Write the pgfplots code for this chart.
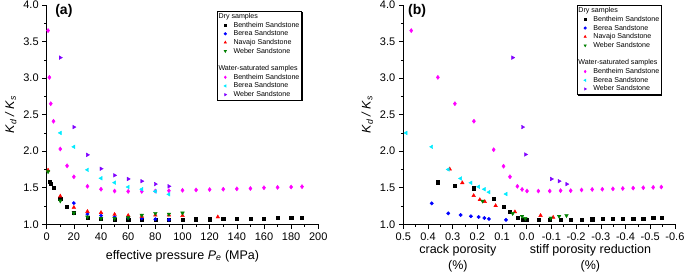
\documentclass[border=0pt]{standalone}
\usepackage{fontspec}
\setmainfont{Liberation Sans}
\usepackage{pgfplots}
\pgfplotsset{compat=1.18}
\usetikzlibrary{shadows}
\definecolor{cmag}{RGB}{255,0,255}
\definecolor{ccyan}{RGB}{0,235,255}
\definecolor{cpurp}{RGB}{128,0,255}
\definecolor{cgreen}{RGB}{0,128,0}
\pgfplotsset{
 panel/.style={
  scale only axis, width=271.6pt, height=219.3pt,
  axis x line*=bottom, axis y line*=left, axis line style={-, line width=0.8pt},
  tick align=outside, major tick length=4.5pt, minor tick length=2.5pt,
  every tick/.style={black, line width=0.6pt},
  ymin=1, ymax=4, ytick={1,1.5,2,2.5,3,3.5,4}, minor y tick num=1,
  /pgf/number format/assume math mode=true,
  yticklabel style={/pgf/number format/.cd, fixed, fixed zerofill, precision=1},
  tick label style={font=\fontsize{11}{12}\selectfont},
  ylabel={\itshape K\textsubscript{d} / K\textsubscript{s}},
  ylabel style={font=\fontsize{12.5}{14}\selectfont, at={([xshift=-36pt]axis description cs:0,0.5)}, anchor=center},
  legend cell align=left,
  legend style={font=\fontsize{7.1}{8}\selectfont, draw=black, line width=0.6pt, fill=white, inner sep=1pt,
    nodes={inner sep=0.9pt, text height=5.4pt, text depth=1.5pt},
    drop shadow={shadow xshift=1.2pt, shadow yshift=-1.2pt, opacity=1, fill=black}},
  clip=false,
 },
 mk/.style={only marks, legend image code/.code={\path (0pt,0pt) (14pt,0pt); \draw[mark repeat=2, mark phase=2, ##1, mark size=1.25pt] plot coordinates {(0pt,0pt) (7pt,0pt) (14pt,0pt)};}},
 sq/.style={mk, mark=square*, mark size=1.6pt, black, mark options={draw=black, fill=black}},
 ci/.style={mk, mark=*, mark size=1.7pt, blue, mark options={draw=blue, fill=blue}},
 tu/.style={mk, mark=triangle*, mark size=2.1pt, red, mark options={draw=red, fill=red}},
 td/.style={mk, mark=triangle*, mark size=2.1pt, cgreen, mark options={draw=cgreen, fill=cgreen, rotate=180}},
 di/.style={mk, mark=diamond*, mark size=2.1pt, cmag, mark options={draw=cmag, fill=cmag}},
 tl/.style={mk, mark=triangle*, mark size=2.1pt, ccyan, mark options={draw=ccyan, fill=ccyan, rotate=90}},
 tr/.style={mk, mark=triangle*, mark size=2.1pt, cpurp, mark options={draw=cpurp, fill=cpurp, rotate=-90}},
}
\begin{document}
\begin{tikzpicture}
\useasboundingbox (0,0) rectangle (685pt,276pt);
% ---------------- panel (a)
\begin{axis}[panel, at={(46.7pt,51.7pt)}, anchor=south west,
  xmin=0, xmax=200, xtick={0,20,...,200}, minor x tick num=1,
  xlabel={effective pressure \textit{P}\textsubscript{\textit{e}} (MPa)},
  xlabel style={font=\fontsize{12.5}{14}\selectfont, at={([yshift=-31.5pt]axis description cs:0.5,0)}, anchor=center},
  legend style={at={(axis description cs:0.626,0.974)}, anchor=north west}]
\addlegendimage{empty legend}\addlegendentry{\hspace*{-15pt}Dry samples}
\addplot[sq] coordinates {(2,1.58)(3,1.55)(5,1.50)(10,1.35)(15,1.245)(20,1.16)(30,1.088)(40,1.072)(50,1.065)(60,1.062)(70,1.062)(80,1.062)(90,1.062)(100,1.068)(110,1.07)(120,1.07)(130,1.075)(140,1.075)(150,1.08)(160,1.08)(170,1.085)(180,1.09)(188,1.095)};
\addlegendentry{Bentheim Sandstone}
\addplot[ci] coordinates {(20,1.29)(30,1.14)(40,1.12)(50,1.10)(60,1.09)(70,1.08)(80,1.07)(90,1.062)};
\addlegendentry{Berea Sandstone}
\addplot[tu] coordinates {(1,1.74)(10,1.385)(20,1.23)(30,1.175)(40,1.16)(50,1.135)(60,1.12)(70,1.11)(80,1.125)(90,1.125)(100,1.12)(126,1.10)};
\addlegendentry{Navajo Sandstone}
\addplot[td] coordinates {(1,1.72)(10,1.32)(20,1.155)(30,1.10)(40,1.08)(50,1.08)(60,1.09)(70,1.125)(80,1.15)(90,1.14)(100,1.155)};
\addlegendentry{Weber Sandstone}
\addlegendimage{empty legend}\addlegendentry{}
\addlegendimage{empty legend}\addlegendentry{\hspace*{-15pt}Water-saturated samples}
\addplot[di] coordinates {(1,3.65)(2,3.01)(3,2.65)(5,2.41)(10,2.03)(15,1.80)(20,1.65)(30,1.52)(40,1.48)(50,1.455)(60,1.45)(70,1.45)(80,1.455)(90,1.46)(100,1.465)(110,1.47)(120,1.475)(130,1.48)(140,1.485)(150,1.49)(160,1.50)(170,1.505)(180,1.51)(188,1.515)};
\addlegendentry{Bentheim Sandstone}
\addplot[tl] coordinates {(10,2.25)(20,2.06)(30,1.745)(40,1.63)(50,1.57)(60,1.51)(70,1.48)(80,1.45)(90,1.41)};
\addlegendentry{Berea Sandstone}
\addplot[tr] coordinates {(10,3.28)(20,2.33)(30,1.95)(40,1.76)(50,1.67)(60,1.62)(70,1.59)(80,1.55)(90,1.52)};
\addlegendentry{Weber Sandstone}
\node[font=\bfseries\fontsize{14}{16}\selectfont, anchor=north west, inner sep=0pt] at (axis description cs:0.031,1.005) {(a)};
\end{axis}
% ---------------- panel (b)
\begin{axis}[panel, at={(403.3pt,51.7pt)}, anchor=south west,
  xmin=-0.6, xmax=0.5, x dir=reverse,
  xtick={-0.6,-0.5,-0.4,-0.3,-0.2,-0.1,0,0.1,0.2,0.3,0.4,0.5}, minor x tick num=1,
  xticklabel style={/pgf/number format/.cd, fixed, fixed zerofill, precision=1},
  legend style={at={(axis description cs:0.638,1.0)}, anchor=north west}]
\addlegendimage{empty legend}\addlegendentry{\hspace*{-15pt}Dry samples}
\addplot[sq] coordinates {(0.361,1.577)(0.291,1.532)(0.215,1.495)(0.134,1.355)(0.094,1.245)(0.069,1.168)(0.038,1.092)(0.018,1.068)(-0.001,1.06)(-0.047,1.06)(-0.092,1.063)(-0.137,1.068)(-0.178,1.068)(-0.222,1.068)(-0.265,1.07)(-0.306,1.075)(-0.349,1.077)(-0.389,1.077)(-0.431,1.08)(-0.472,1.08)(-0.512,1.085)(-0.545,1.09)};
\addlegendentry{Bentheim Sandstone}
\addplot[ci] coordinates {(0.385,1.286)(0.318,1.15)(0.268,1.127)(0.226,1.11)(0.195,1.10)(0.172,1.086)(0.153,1.073)(0.084,1.06)};
\addlegendentry{Berea Sandstone}
\addplot[tu] coordinates {(0.312,1.755)(0.261,1.568)(0.215,1.392)(0.19,1.336)(0.170,1.31)(0.126,1.254)(0.048,1.17)(-0.056,1.12)(-0.107,1.095)};
\addlegendentry{Navajo Sandstone}
\addplot[td] coordinates {(0.179,1.318)(0.057,1.148)(0.019,1.11)(0.006,1.08)(-0.097,1.086)(-0.131,1.11)(-0.161,1.12)};
\addlegendentry{Weber Sandstone}
\addlegendimage{empty legend}\addlegendentry{}
\addlegendimage{empty legend}\addlegendentry{\hspace*{-15pt}Water-saturated samples}
\addplot[di] coordinates {(0.468,3.65)(0.36,3.01)(0.291,2.65)(0.214,2.41)(0.134,2.02)(0.094,1.795)(0.068,1.65)(0.038,1.52)(0.019,1.477)(-0.001,1.455)(-0.047,1.455)(-0.093,1.455)(-0.137,1.46)(-0.178,1.46)(-0.222,1.47)(-0.265,1.477)(-0.306,1.48)(-0.349,1.485)(-0.389,1.49)(-0.431,1.495)(-0.472,1.50)(-0.512,1.505)(-0.545,1.51)};
\addlegendentry{Bentheim Sandstone}
\addplot[tl] coordinates {(0.489,2.25)(0.385,2.06)(0.318,1.75)(0.268,1.627)(0.226,1.568)(0.195,1.514)(0.172,1.48)(0.153,1.44)(0.084,1.414)};
\addlegendentry{Berea Sandstone}
\addplot[tr] coordinates {(0.057,3.28)(0.017,2.33)(0.005,1.955)(-0.10,1.62)(-0.131,1.59)(-0.162,1.55)};
\addlegendentry{Weber Sandstone}
\node[font=\bfseries\fontsize{14}{16}\selectfont, anchor=north west, inner sep=0pt] at (axis description cs:0.017,1.005) {(b)};
\node[font=\fontsize{12.5}{16.5}\selectfont, align=center] at ([yshift=-34pt]axis description cs:0.201,0) {crack porosity\\(\%)};
\node[font=\fontsize{12.5}{16.5}\selectfont, align=center] at ([yshift=-34pt]axis description cs:0.689,0) {stiff porosity reduction\\(\%)};
\end{axis}
\end{tikzpicture}
\end{document}
